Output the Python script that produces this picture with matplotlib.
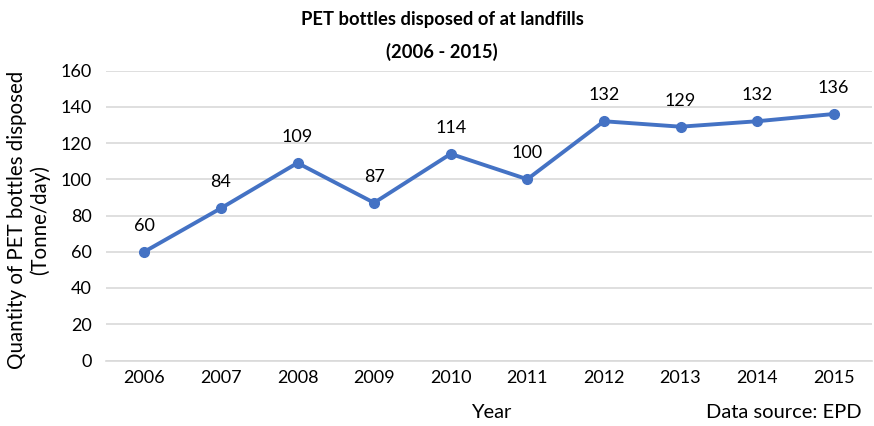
import matplotlib
matplotlib.use("Agg")
import matplotlib.pyplot as plt

years = ["2006", "2007", "2008", "2009", "2010", "2011", "2012", "2013", "2014", "2015"]
values = [60, 84, 109, 87, 114, 100, 132, 129, 132, 136]
yticks = [0, 20, 40, 60, 80, 100, 120, 140, 160]

plt.rcParams['font.family'] = ['Lato', 'DejaVu Sans']

fig = plt.figure(figsize=(8.74, 4.26), dpi=100)
ax = fig.add_axes([106/874, 1-360.5/426, (872-106)/874, (360.5-70.5)/426])

x = list(range(len(years)))
ax.plot(x, values, color='#4472C4', linewidth=2.8, marker='o', markersize=7, zorder=3)
for xi, v in zip(x, values):
    ax.annotate(str(v), (xi, v), xytext=(0, 13), textcoords='offset points',
                ha='center', va='bottom', fontsize=13, color='#000000')

ax.set_xlim(-0.5, len(years)-0.5)
ax.set_ylim(0, 160)
ax.set_yticks(yticks)
ax.set_xticks(x)
ax.set_xticklabels(years)
ax.tick_params(axis='both', length=0, labelsize=13, colors='#000000')
ax.tick_params(axis='y', pad=10)
ax.tick_params(axis='x', pad=7)
ax.grid(axis='y', color='#D9D9D9', linewidth=1.2)
ax.set_axisbelow(True)
for s in ['top', 'right', 'left']:
    ax.spines[s].set_visible(False)
ax.spines['bottom'].set_color('#D9D9D9')
ax.spines['bottom'].set_linewidth(1.2)

fig.text(491/874, 1-412/426, 'Year', ha='center', va='center', fontsize=14.5)
fig.text(29/874, 1-220/426, 'Quantity of PET bottles disposed\n(Tonne/day)', ha='center',
         va='center', rotation=90, fontsize=14.8, linespacing=1.15)
fig.text(442/874, 1-20/426, 'PET bottles disposed of at landfills', ha='center',
         va='center', fontsize=13.2, fontweight='bold')
fig.text(442/874, 1-52/426, '(2006 - 2015)', ha='center',
         va='center', fontsize=13.2, fontweight='bold')
fig.text(862/874, 1-412/426, 'Data source: EPD', ha='right', va='center', fontsize=14.5)

fig.savefig('out.png', dpi=100)
